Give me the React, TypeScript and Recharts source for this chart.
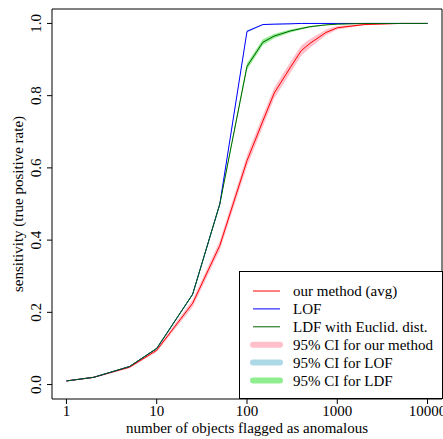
import React from 'react';
import { ComposedChart, Line, Area, XAxis, YAxis, ReferenceArea, Legend } from 'recharts';

const objectsFlagged = [1, 2, 5, 10, 25, 50, 100, 150, 200, 300, 400, 500, 750, 1000, 2000, 5000, 10000];

const ourMethod = [0.01, 0.02, 0.048, 0.095, 0.225, 0.385, 0.62, 0.73, 0.807, 0.877, 0.925, 0.945, 0.975, 0.988, 0.997, 1, 1];
const ourLow = [0.009, 0.018, 0.045, 0.09, 0.215, 0.372, 0.604, 0.714, 0.792, 0.862, 0.911, 0.933, 0.967, 0.983, 0.995, 0.999, 1];
const ourHigh = [0.011, 0.022, 0.051, 0.1, 0.235, 0.398, 0.636, 0.746, 0.822, 0.892, 0.939, 0.957, 0.983, 0.993, 0.999, 1, 1];

const lof = [0.01, 0.02, 0.05, 0.1, 0.25, 0.5, 0.978, 0.997, 0.998, 0.999, 1, 1, 1, 1, 1, 1, 1];
const lofLow = [0.01, 0.02, 0.049, 0.099, 0.248, 0.497, 0.975, 0.996, 0.997, 0.998, 0.999, 1, 1, 1, 1, 1, 1];
const lofHigh = [0.01, 0.02, 0.051, 0.101, 0.252, 0.503, 0.981, 0.998, 0.999, 1, 1, 1, 1, 1, 1, 1, 1];

const ldf = [0.01, 0.02, 0.05, 0.1, 0.25, 0.5, 0.881, 0.948, 0.965, 0.979, 0.986, 0.991, 0.996, 0.998, 1, 1, 1];
const ldfLow = [0.01, 0.019, 0.049, 0.098, 0.247, 0.496, 0.872, 0.94, 0.959, 0.975, 0.983, 0.989, 0.995, 0.997, 0.999, 1, 1];
const ldfHigh = [0.01, 0.021, 0.051, 0.102, 0.253, 0.504, 0.89, 0.956, 0.971, 0.983, 0.989, 0.993, 0.997, 0.999, 1, 1, 1];

const xTicks = [1, 10, 100, 1000, 10000];
const yTicks = [0, 0.2, 0.4, 0.6, 0.8, 1.0];
const xDomain = [Math.pow(10, -0.16), Math.pow(10, 4.16)];
const yDomain = [-0.04, 1.04];

const xTitle = 'number of objects flagged as anomalous';
const yTitle = 'sensitivity (true positive rate)';

const legendItems = [
  { label: 'our method (avg)', color: '#ff0000', kind: 'line' },
  { label: 'LOF', color: '#0000ff', kind: 'line' },
  { label: 'LDF with Euclid. dist.', color: '#006400', kind: 'line' },
  { label: '95% CI for our method', color: '#ffc0cb', kind: 'band' },
  { label: '95% CI for LOF', color: '#add8e6', kind: 'band' },
  { label: '95% CI for LDF', color: '#90ee90', kind: 'band' },
];

const data = objectsFlagged.map((x, i) => ({
  x,
  our: ourMethod[i],
  ourBand: [ourLow[i], ourHigh[i]],
  lof: lof[i],
  lofBand: [lofLow[i], lofHigh[i]],
  ldf: ldf[i],
  ldfBand: [ldfLow[i], ldfHigh[i]],
}));

const FONT = '"Liberation Serif", "Times New Roman", serif';

const YTick = (props: any) => {
  const { x, y, payload } = props;
  return (
    <text
      x={x}
      y={y}
      transform={`rotate(-90, ${x}, ${y})`}
      textAnchor="middle"
      fontFamily={FONT}
      fontSize={15}
      fill="#000"
    >
      {Number(payload.value).toFixed(1)}
    </text>
  );
};

const XTick = (props: any) => {
  const { x, y, payload } = props;
  return (
    <text x={x} y={y + 10.5} textAnchor="middle" fontFamily={FONT} fontSize={15} fill="#000">
      {String(payload.value)}
    </text>
  );
};

const XTitle = (props: any) => {
  const vb = props.viewBox || {};
  return (
    <text
      x={vb.x + vb.width / 2}
      y={vb.y + 34}
      textAnchor="middle"
      fontFamily={FONT}
      fontSize={15}
      fill="#000"
    >
      {xTitle}
    </text>
  );
};

const YTitle = (props: any) => {
  const vb = props.viewBox || {};
  const cx = 22.5;
  const cy = vb.y + vb.height / 2;
  return (
    <text
      x={cx}
      y={cy}
      transform={`rotate(-90, ${cx}, ${cy})`}
      textAnchor="middle"
      fontFamily={FONT}
      fontSize={15}
      fill="#000"
    >
      {yTitle}
    </text>
  );
};

const LegendBox = () => (
  <svg width={204} height={128} style={{ display: 'block' }}>
    <rect x={0.5} y={0.5} width={203} height={127} fill="#fff" stroke="#000" strokeWidth={1} />
    {legendItems.map((it, i) => {
      const cy = 20 + i * 17.9;
      return (
        <g key={it.label}>
          <line
            x1={14}
            x2={41}
            y1={cy}
            y2={cy}
            stroke={it.color}
            strokeWidth={it.kind === 'band' ? 6 : 1}
            strokeLinecap={it.kind === 'band' ? 'round' : 'butt'}
          />
          <text x={54} y={cy + 5} fontFamily={FONT} fontSize={15} fill="#000">
            {it.label}
          </text>
        </g>
      );
    })}
  </svg>
);

export default function App() {
  return (
    <div style={{ position: 'absolute', left: 0, top: 0, width: 443, height: 439, background: '#fff' }}>
      <ComposedChart
        width={443}
        height={439}
        data={data}
        margin={{ top: 9, right: 1, bottom: 0, left: 0 }}
      >
        <XAxis
          dataKey="x"
          type="number"
          scale="log"
          domain={xDomain}
          allowDataOverflow
          ticks={xTicks}
          interval={0}
          height={40}
          axisLine={false}
          tickLine={{ stroke: '#000' }}
          tickSize={5}
          tickMargin={1}
          stroke="#000"
          tick={<XTick />}
          label={<XTitle />}
        />
        <YAxis
          type="number"
          domain={yDomain}
          allowDataOverflow
          ticks={yTicks}
          interval={0}
          width={52}
          axisLine={false}
          tickLine={{ stroke: '#000' }}
          tickSize={5}
          tickMargin={6}
          stroke="#000"
          tick={<YTick />}
          label={<YTitle />}
        />
        <Area type="linear" dataKey="ourBand" stroke="none" fill="#ffc0cb" fillOpacity={1} isAnimationActive={false} />
        <Area type="linear" dataKey="lofBand" stroke="none" fill="#add8e6" fillOpacity={1} isAnimationActive={false} />
        <Area type="linear" dataKey="ldfBand" stroke="none" fill="#90ee90" fillOpacity={1} isAnimationActive={false} />
        <Line type="linear" dataKey="our" stroke="#ff0000" strokeWidth={1} dot={false} isAnimationActive={false} />
        <Line type="linear" dataKey="lof" stroke="#0000ff" strokeWidth={1} dot={false} isAnimationActive={false} />
        <Line type="linear" dataKey="ldf" stroke="#006400" strokeWidth={1} dot={false} isAnimationActive={false} />
        <ReferenceArea
          x1={xDomain[0]}
          x2={xDomain[1]}
          y1={yDomain[0]}
          y2={yDomain[1]}
          fill="none"
          fillOpacity={0}
          stroke="#000"
          strokeWidth={1}
          ifOverflow="visible"
        />
        <Legend
          layout="horizontal"
          verticalAlign="middle"
          align="center"
          content={<LegendBox />}
          wrapperStyle={{ position: 'absolute', left: 239, top: 271, width: 204, height: 128 }}
        />
      </ComposedChart>
    </div>
  );
}
